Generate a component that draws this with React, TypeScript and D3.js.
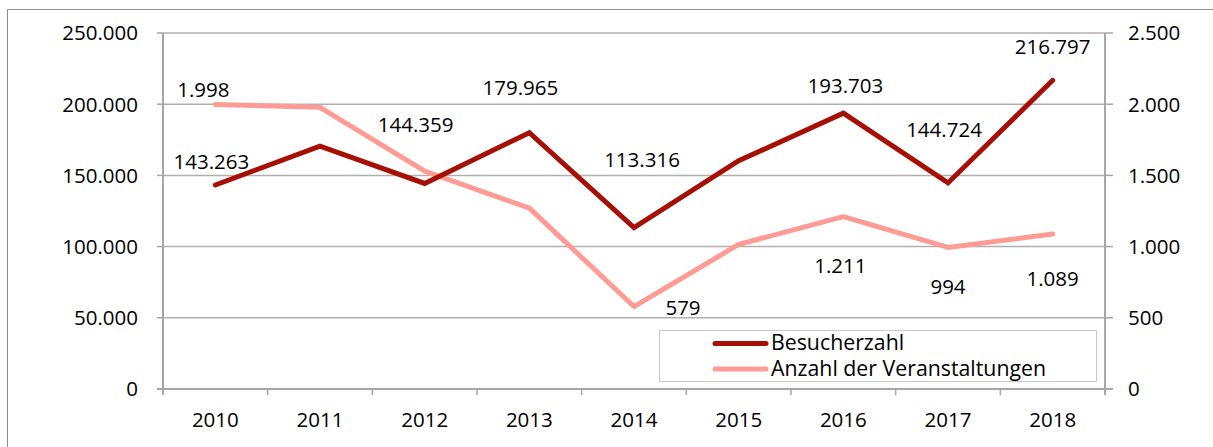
import * as d3 from "d3";

const years = ["2010", "2011", "2012", "2013", "2014", "2015", "2016", "2017", "2018"];
const besucher = [143263, 170600, 144359, 179965, 113316, 160300, 193703, 144724, 216797];
const veranstaltungen = [1998, 1978, 1530, 1270, 579, 1015, 1211, 994, 1089];
const besucherLabels = ["143.263", null, "144.359", "179.965", "113.316", null, "193.703", "144.724", "216.797"];
const veranstaltungenLabels = ["1.998", null, null, null, "579", null, "1.211", "994", "1.089"];
const leftTicks = [0, 50000, 100000, 150000, 200000, 250000];
const rightTicks = [0, 500, 1000, 1500, 2000, 2500];

// label offsets (dx, baseline dy) relative to the point, as placed in the original
const besucherOffsets: [number, number][] = [
  [-4, -16], [0, 0], [-9, -51], [-9, -38], [8, -61], [0, 0], [2, -20], [-4, -46], [0, -26],
];
const veranstaltungenOffsets: [number, number][] = [
  [-12, -7], [0, 0], [0, 0], [0, 0], [49, 8], [0, 0], [-3, 56], [0, 47], [0, 52],
];

const W = 1213;
const H = 447;
const left = 163;
const right = 1105;
const top = 33;
const bottom = 389;

const dark = "#A50F05";
const pink = "#FF9B95";
const gridColor = "#B0B0B0";
const axisColor = "#A6A6A6";
const font = "'Open Sans', sans-serif";
const numSize = 20.5;

export default function App() {
  const x = d3.scaleBand().domain(years).range([left, right]);
  const yL = d3.scaleLinear().domain([0, 250000]).range([bottom, top]);
  const yR = d3.scaleLinear().domain([0, 2500]).range([bottom, top]);
  const cx = (y: string) => (x(y) ?? 0) + x.bandwidth() / 2;
  const fmt = d3.formatLocale({ decimal: ",", thousands: ".", grouping: [3], currency: ["", "€"] }).format(",d");

  const lineL = d3.line<number>().x((_, i) => cx(years[i])).y((d) => yL(d));
  const lineR = d3.line<number>().x((_, i) => cx(years[i])).y((d) => yR(d));

  const bounds = years.map((y) => x(y) ?? 0).concat([right]);

  return (
    <svg width={W} height={H} style={{ position: "absolute", left: 0, top: 0 }} fontFamily={font}>
      <rect x={0} y={0} width={W} height={H} fill="#fff" />
      <path d={`M7.5,${H} V9.5 H${W}`} fill="none" stroke="#8C8C8C" strokeWidth={1} />

      {leftTicks.slice(1).map((t) => (
        <line key={t} x1={left} x2={right} y1={yL(t)} y2={yL(t)} stroke={gridColor} strokeWidth={1.5} />
      ))}

      {/* axes */}
      <line x1={left} x2={left} y1={top} y2={bottom + 6} stroke={axisColor} strokeWidth={2} />
      <line x1={right} x2={right} y1={top} y2={bottom + 6} stroke={axisColor} strokeWidth={2} />
      <line x1={left - 6} x2={right + 8} y1={bottom} y2={bottom} stroke={axisColor} strokeWidth={2} />
      {leftTicks.map((t) => (
        <g key={"l" + t}>
          <line x1={left - 6} x2={left} y1={yL(t)} y2={yL(t)} stroke={axisColor} strokeWidth={1.5} />
          <text x={138} y={yL(t)} dy="0.36em" textAnchor="end" fontSize={numSize} fill="#000">
            {fmt(t)}
          </text>
        </g>
      ))}
      {rightTicks.map((t) => (
        <g key={"r" + t}>
          <line x1={right} x2={right + 8} y1={yR(t)} y2={yR(t)} stroke={axisColor} strokeWidth={1.5} />
          <text x={1128} y={yR(t)} dy="0.36em" textAnchor="start" fontSize={numSize} fill="#000">
            {fmt(t)}
          </text>
        </g>
      ))}
      {bounds.map((b, i) => (
        <line key={"b" + i} x1={b} x2={b} y1={bottom} y2={bottom + 6} stroke={axisColor} strokeWidth={1.5} />
      ))}
      {years.map((y) => (
        <text key={y} x={cx(y)} y={427} textAnchor="middle" fontSize={numSize} fill="#000">
          {y}
        </text>
      ))}

      <path d={lineR(veranstaltungen) ?? ""} fill="none" stroke={pink} strokeWidth={5} strokeLinejoin="round" strokeLinecap="round" />
      <path d={lineL(besucher) ?? ""} fill="none" stroke={dark} strokeWidth={5} strokeLinejoin="miter" strokeLinecap="round" />

      {besucherLabels.map((l, i) =>
        l ? (
          <text key={"bl" + i} x={cx(years[i]) + besucherOffsets[i][0]} y={yL(besucher[i]) + besucherOffsets[i][1]} textAnchor="middle" fontSize={numSize} fill="#000">
            {l}
          </text>
        ) : null
      )}
      {veranstaltungenLabels.map((l, i) =>
        l ? (
          <text key={"vl" + i} x={cx(years[i]) + veranstaltungenOffsets[i][0]} y={yR(veranstaltungen[i]) + veranstaltungenOffsets[i][1]} textAnchor="middle" fontSize={numSize} fill="#000">
            {l}
          </text>
        ) : null
      )}

      {/* legend */}
      <rect x={659.5} y={330.5} width={437} height={51} fill="#fff" stroke="#C8C8C8" strokeWidth={1} />
      <line x1={715} x2={766} y1={343.5} y2={343.5} stroke={dark} strokeWidth={5} strokeLinecap="round" />
      <line x1={715} x2={766} y1={369} y2={369} stroke={pink} strokeWidth={5} strokeLinecap="round" />
      <text x={771} y={350} fontSize={21.3} fill="#000">Besucherzahl</text>
      <text x={771} y={376} fontSize={21.3} fill="#000">Anzahl der Veranstaltungen</text>
    </svg>
  );
}
